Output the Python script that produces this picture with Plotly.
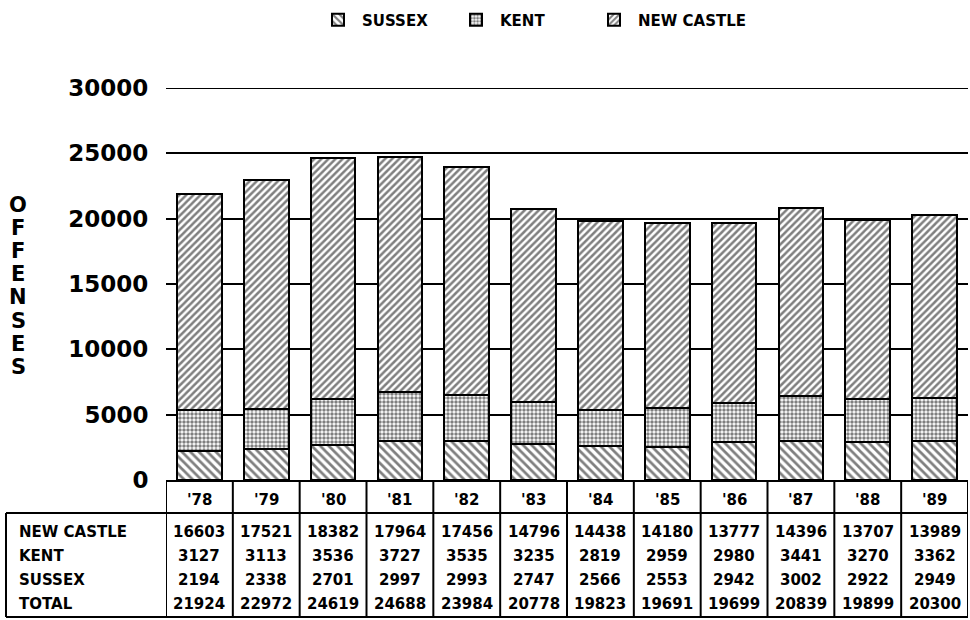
import plotly.graph_objects as go

years = ["'78", "'79", "'80", "'81", "'82", "'83", "'84", "'85", "'86", "'87", "'88", "'89"]
new_castle = [16603, 17521, 18382, 17964, 17456, 14796, 14438, 14180, 13777, 14396, 13707, 13989]
kent = [3127, 3113, 3536, 3727, 3535, 3235, 2819, 2959, 2980, 3441, 3270, 3362]
sussex = [2194, 2338, 2701, 2997, 2993, 2747, 2566, 2553, 2942, 3002, 2922, 2949]
total = [21924, 22972, 24619, 24688, 23984, 20778, 19823, 19691, 19699, 20839, 19899, 20300]
y_ticks = [0, 5000, 10000, 15000, 20000, 25000, 30000]

FONT = "DejaVu Sans"
xs = list(range(len(years)))

fig = go.Figure()
series = [
    ("SUSSEX", sussex, "\\", 6, 0.45),
    ("KENT", kent, ".", 4, 0.6),
    ("NEW CASTLE", new_castle, "/", 5, 0.5),
]
for name, vals, shape, size, sol in series:
    fig.add_trace(go.Bar(
        x=xs, y=vals, name=name, width=0.67,
        marker=dict(color="white", line=dict(color="black", width=2),
                    pattern=dict(shape=shape, size=size, solidity=sol,
                                 fgcolor="black", bgcolor="white", fillmode="overlay")),
    ))
# invisible spacer entry so the last legend label is not clipped
fig.add_trace(go.Bar(x=[None], y=[None], name=" ", hoverinfo="skip",
                     marker=dict(color="rgba(0,0,0,0)", line=dict(width=0))))

# pixel -> paper helpers (plot area: x 166..968, y 88..480)
def px(xp):
    return (xp - 166) / 802.0

def py(yp):
    return (480 - yp) / 392.0

shapes = []
line = dict(color="black", width=2)
# top gridline at the range end
shapes.append(dict(type="line", xref="paper", yref="y", x0=0, x1=1,
                   y0=y_ticks[-1], y1=y_ticks[-1], line=line, layer="below"))
# horizontal table lines
for yp in (513, 617):
    shapes.append(dict(type="line", xref="paper", yref="paper", x0=px(6), x1=1,
                       y0=py(yp), y1=py(yp), line=line))
# left border
shapes.append(dict(type="line", xref="paper", yref="paper", x0=px(6), x1=px(6),
                   y0=py(513), y1=py(617), line=line))
# column separators
for k in range(len(years) + 1):
    shapes.append(dict(type="line", xref="x", yref="paper", x0=k - 0.5, x1=k - 0.5,
                       y0=0, y1=py(617), line=line))

annotations = []
tfont = dict(family=FONT, size=15, color="black", weight="bold")
for i, yr in enumerate(years):
    annotations.append(dict(x=i, y=py(500), xref="x", yref="paper", text=yr,
                            showarrow=False, font=tfont, yanchor="middle"))
rows = [("NEW CASTLE", new_castle, 532), ("KENT", kent, 556),
        ("SUSSEX", sussex, 580), ("TOTAL", total, 604)]
for label, vals, yp in rows:
    annotations.append(dict(x=px(17), y=py(yp), xref="paper", yref="paper", text=label,
                            showarrow=False, xanchor="left", yanchor="middle",
                            font=dict(family=FONT, size=15, color="black", weight="bold")))
    for i, v in enumerate(vals):
        annotations.append(dict(x=i, y=py(yp), xref="x", yref="paper", text=str(v),
                                showarrow=False, yanchor="middle", font=tfont))

# vertical axis title letters
for j, ch in enumerate("OFFENSES"):
    annotations.append(dict(x=px(18), y=py(205 + 23.1 * j), xref="paper", yref="paper",
                            text=ch, showarrow=False, xanchor="center", yanchor="middle",
                            font=dict(family=FONT, size=21, color="black", weight="bold")))

fig.update_layout(
    width=970, height=620,
    margin=dict(l=166, r=2, t=88, b=140),
    paper_bgcolor="white", plot_bgcolor="white",
    barmode="stack", bargap=0.33,
    showlegend=True,
    legend=dict(orientation="h", x=px(314), y=py(20), xanchor="left", yanchor="middle",
                traceorder="normal", font=dict(family=FONT, size=15, color="black", weight="bold"),
                entrywidth=85, itemwidth=38, bgcolor="rgba(0,0,0,0)"),
    xaxis=dict(range=[-0.5, len(years) - 0.5], showticklabels=False, showgrid=False,
               zeroline=False, showline=True, linecolor="black", linewidth=2, ticks=""),
    yaxis=dict(range=[0, 30000], tickvals=y_ticks, tickformat="d", showgrid=True,
               gridcolor="black", gridwidth=2, zeroline=False, showline=False,
               ticks="outside", ticklen=12, tickcolor="white",
               tickfont=dict(family=FONT, size=23, color="black", weight="bold")),
    shapes=shapes, annotations=annotations,
)

fig.write_html("out.html", config={"displayModeBar": False},
               post_script="document.body.style.margin='0';document.body.style.overflow='hidden';")
